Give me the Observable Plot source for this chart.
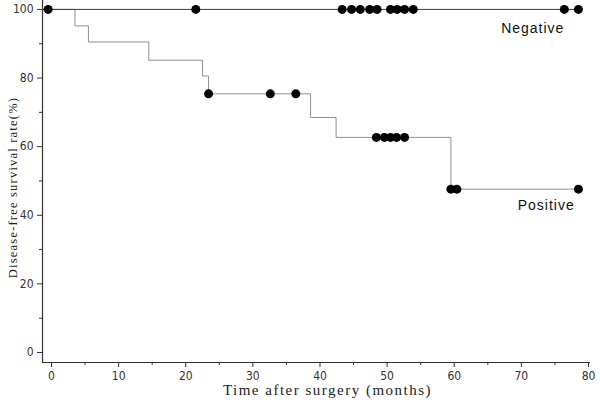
<!DOCTYPE html>
<html><head><meta charset="utf-8">
<script src="https://cdn.jsdelivr.net/npm/d3@7"></script>
<script src="https://cdn.jsdelivr.net/npm/@observablehq/plot@0.6"></script>
<style>body{margin:0;background:#fff}</style>
</head><body><div id="chart"></div>
<script>
// Kaplan–Meier curves (time in months, survival in %)
const negTimes = [-1.34, 78.5];
const negSurv = [100, 100];
const negCensored = [-0.5, 21.5, 43.3, 44.7, 46.0, 47.4, 48.5, 50.5, 51.5, 52.6, 53.9, 76.4, 78.5];

const posTimes = [-1.34, 3.5, 5.5, 14.5, 22.5, 23.4, 38.6, 42.4, 59.5, 78.5];
const posSurv = [100, 95.2, 90.5, 85.2, 80.6, 75.4, 68.5, 62.7, 47.6, 47.6];
const posCensored = [23.4, 32.6, 36.4, 48.4, 49.6, 50.5, 51.4, 52.6, 59.5, 60.4, 78.5];

const groupLabels = ["Negative", "Positive"];
const groupLabelX = [71.7, 73.7];
const groupLabelY = [94.4, 42.9];

const xMajor = [0, 10, 20, 30, 40, 50, 60, 70, 80];
const xMinor = [5, 15, 25, 35, 45, 55, 65, 75];
const yMajor = [0, 20, 40, 60, 80, 100];
const yMinor = [10, 30, 50, 70, 90];

const xTitle = "Time after surgery (months)";
const yTitle = "Disease-free survival rate(%)";

const xDomain = [-1.34, 80.3];
const yDomain = [-2.92, 102.6];

function stepAt(times, surv, t) {
  let s = surv[0];
  for (let i = 0; i < times.length; i++) if (times[i] <= t) s = surv[i];
  return s;
}
const negCurve = negTimes.map((t, i) => ({t, s: negSurv[i]}));
const posCurve = posTimes.map((t, i) => ({t, s: posSurv[i]}));
const negDots = negCensored.map(t => ({t, s: stepAt(negTimes, negSurv, t)}));
const posDots = posCensored.map(t => ({t, s: stepAt(posTimes, posSurv, t)}));
const labels = groupLabels.map((name, i) => ({name, x: groupLabelX[i], y: groupLabelY[i]}));

const tickFont = "'DejaVu Sans Condensed', 'Liberation Sans Narrow', sans-serif";
const serif = "'Liberation Serif', 'DejaVu Serif', serif";

const chart = Plot.plot({
  width: 600,
  height: 402,
  marginLeft: 42,
  marginRight: 10,
  marginTop: 0,
  marginBottom: 40,
  x: {domain: xDomain},
  y: {domain: yDomain},
  style: {fontFamily: tickFont, fontSize: "12px", color: "#333", background: "#fff"},
  marks: [
    Plot.ruleX([xDomain[0]], {stroke: "#333", strokeWidth: 1.2}),
    Plot.ruleY([yDomain[0]], {stroke: "#333", strokeWidth: 1.2}),
    Plot.axisX({ticks: xMajor, tickSize: 5, tickPadding: 4, label: null, fontFamily: tickFont, fontSize: 12}),
    Plot.axisX({ticks: xMinor, tickSize: 3, tickFormat: () => "", label: null}),
    Plot.axisY({ticks: yMajor, tickSize: 5, tickPadding: 4, label: null, fontFamily: tickFont, fontSize: 12}),
    Plot.axisY({ticks: yMinor, tickSize: 3, tickFormat: () => "", label: null}),
    Plot.line(posCurve, {x: "t", y: "s", curve: "step-after", stroke: "#8f8f8f", strokeWidth: 1}),
    Plot.line(negCurve, {x: "t", y: "s", curve: "step-after", stroke: "#3a3a3a", strokeWidth: 1}),
    Plot.dot(negDots, {x: "t", y: "s", r: 4.5, fill: "#000", stroke: "none"}),
    Plot.dot(posDots, {x: "t", y: "s", r: 4.5, fill: "#000", stroke: "none"}),
    Plot.text(labels, {x: "x", y: "y", text: "name", fontFamily: "'Liberation Sans', Arial, sans-serif", fontSize: 14, fill: "#111"}),
    Plot.text([xTitle], {frameAnchor: "bottom", dx: 11, dy: 28, fontFamily: serif, fontSize: 15, fill: "#222", lineAnchor: "middle", textAnchor: "middle"}),
    Plot.text([yTitle], {frameAnchor: "left", dx: -30, dy: 6, rotate: -90, fontFamily: serif, fontSize: 12.5, fill: "#222", lineAnchor: "middle", textAnchor: "middle"})
  ]
});
document.getElementById("chart").appendChild(chart);
// letter spacing for titles / labels
chart.querySelectorAll("text").forEach(t => {
  const s = t.textContent;
  if (s === xTitle) t.setAttribute("letter-spacing", "1.5");
  if (s === yTitle) t.setAttribute("letter-spacing", "1.2");
  if (s === "Negative" || s === "Positive") t.setAttribute("letter-spacing", "1");
});
</script>
</body></html>
